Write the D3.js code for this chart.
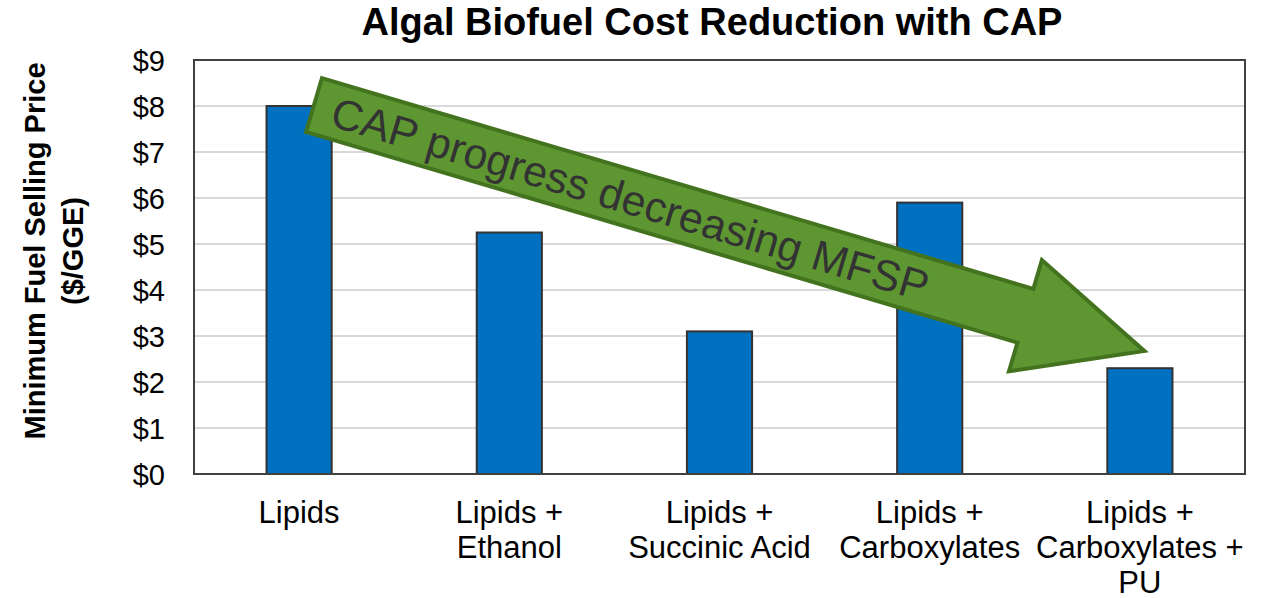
<!DOCTYPE html>
<html>
<head>
<meta charset="utf-8">
<script src="https://cdn.jsdelivr.net/npm/d3@7"></script>
<style>
  html, body { margin: 0; padding: 0; background: #fff; overflow: hidden; }
  svg { display: block; }
  svg text { font-family: Arial, "Liberation Sans", sans-serif; }
</style>
</head>
<body>
<div id="chart"></div>
<script>
// Donn√©es du graphique
const categories = [
    ['Lipids'],
    ['Lipids +', 'Ethanol'],
    ['Lipids +', 'Succinic Acid'],
    ['Lipids +', 'Carboxylates'],
    ['Lipids +', 'Carboxylates +', 'PU']
];
const mfsp = [8.0, 5.25, 3.1, 5.9, 2.3];
const yTicks = [0, 1, 2, 3, 4, 5, 6, 7, 8, 9];

const width = 1261;
const height = 598;
const margin = { top: 60, right: 16, bottom: 124, left: 194 };
const innerWidth = width - margin.left - margin.right;
const innerHeight = height - margin.top - margin.bottom;

const svg = d3.select('#chart')
    .append('svg')
    .attr('width', width)
    .attr('height', height);

const g = svg.append('g')
    .attr('transform', `translate(${margin.left},${margin.top})`);

// √âchelles
const xScale = d3.scaleBand()
    .domain(d3.range(categories.length))
    .range([0, innerWidth]);

const yScale = d3.scaleLinear()
    .domain([0, 9])
    .range([innerHeight, 0]);

const barWidth = xScale.bandwidth() * 0.31;

// Grille
g.selectAll('.grid')
    .data(yTicks.slice(1))
    .enter()
    .append('line')
    .attr('x1', 0)
    .attr('x2', innerWidth)
    .attr('y1', d => yScale(d))
    .attr('y2', d => yScale(d))
    .style('stroke', '#d9d9d9')
    .style('stroke-width', 2);

// Axe Y (labels seulement)
const yAxis = d3.axisLeft(yScale)
    .tickValues(yTicks)
    .tickFormat(d => '$' + d)
    .tickSize(0)
    .tickPadding(29);

g.append('g')
    .call(yAxis)
    .call(sel => sel.select('.domain').remove())
    .selectAll('text')
    .style('fill', '#000')
    .style('font-size', '29px')
    .attr('dy', '0.36em');

// Barres
g.selectAll('.bar')
    .data(mfsp)
    .enter()
    .append('rect')
    .attr('class', 'bar')
    .attr('x', (d, i) => xScale(i) + (xScale.bandwidth() - barWidth) / 2)
    .attr('y', d => yScale(d))
    .attr('width', barWidth)
    .attr('height', d => innerHeight - yScale(d))
    .style('fill', '#0070c0')
    .style('stroke', '#333')
    .style('stroke-width', 2);

// Cadre
g.append('rect')
    .attr('width', innerWidth)
    .attr('height', innerHeight)
    .style('fill', 'none')
    .style('stroke', '#404040')
    .style('stroke-width', 2);

// Labels X
const xLabels = g.selectAll('.x-label')
    .data(categories)
    .enter()
    .append('text')
    .attr('class', 'x-label')
    .attr('text-anchor', 'middle')
    .attr('x', (d, i) => xScale(i) + xScale.bandwidth() / 2)
    .attr('y', innerHeight + 49)
    .style('font-size', '31px')
    .style('fill', '#000');

xLabels.selectAll('tspan')
    .data(d => d)
    .enter()
    .append('tspan')
    .attr('x', function () { return d3.select(this.parentNode).attr('x'); })
    .attr('dy', (d, i) => i === 0 ? 0 : 35)
    .text(d => d);

// Fl√®che CAP
const arrow = { x: 314, y: 105, angle: 16.5, half: 28, headStart: 742, headHalf: 58, tip: 866 };
const arrowG = svg.append('g')
    .attr('transform', `translate(${arrow.x},${arrow.y}) rotate(${arrow.angle})`);

const arrowPts = [
    [0, -arrow.half], [arrow.headStart, -arrow.half], [arrow.headStart, -arrow.headHalf],
    [arrow.tip, 0],
    [arrow.headStart, arrow.headHalf], [arrow.headStart, arrow.half], [0, arrow.half]
];

arrowG.append('path')
    .attr('d', d3.line()(arrowPts) + 'Z')
    .style('fill', '#5e9732')
    .style('stroke', '#43731f')
    .style('stroke-width', 4)
    .style('stroke-linejoin', 'miter');

arrowG.append('text')
    .attr('x', 330)
    .attr('y', 0)
    .attr('dy', '0.36em')
    .attr('text-anchor', 'middle')
    .style('font-size', '43px')
    .style('fill', '#333')
    .text('CAP progress decreasing MFSP');

// Titre
svg.append('text')
    .attr('x', 712)
    .attr('y', 35)
    .attr('text-anchor', 'middle')
    .style('font-size', '38px')
    .style('font-weight', 'bold')
    .text('Algal Biofuel Cost Reduction with CAP');

// Titre axe Y
const yTitle = svg.append('text')
    .attr('transform', 'translate(45,251) rotate(-90)')
    .attr('text-anchor', 'middle')
    .style('font-size', '29px')
    .style('font-weight', 'bold');

yTitle.append('tspan').attr('x', 0).attr('dy', 0).text('Minimum Fuel Selling Price');
yTitle.append('tspan').attr('x', 0).attr('dy', 38).text('($/GGE)');
</script>
</body>
</html>
